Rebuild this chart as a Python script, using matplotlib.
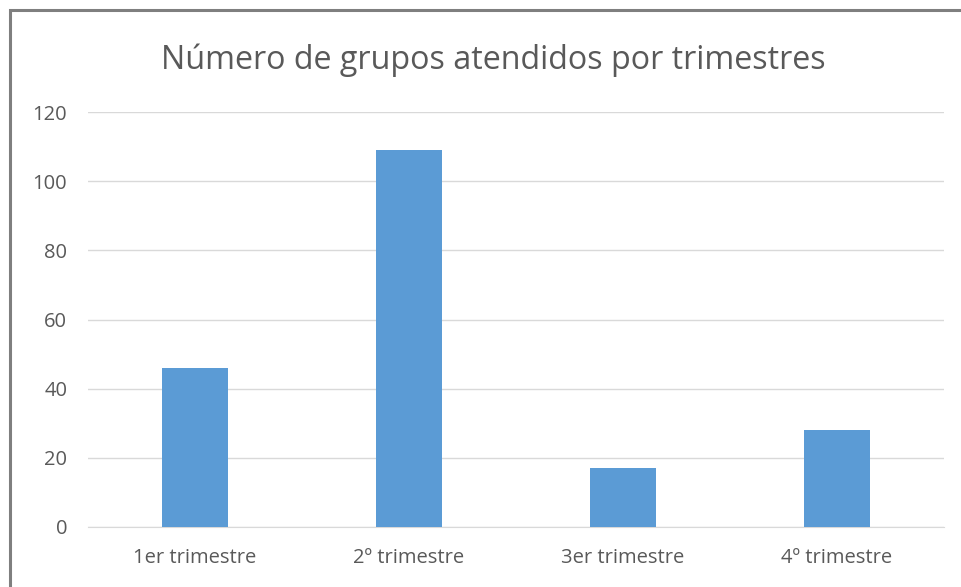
"""Número de grupos atendidos por trimestres - bar chart."""

import matplotlib.pyplot as plt
from matplotlib.patches import Rectangle


CATEGORIES = ["1er trimestre", "2º trimestre", "3er trimestre", "4º trimestre"]
VALUES = [46, 109, 17, 28]
Y_TICKS = [0, 20, 40, 60, 80, 100, 120]

TITLE = "Número de grupos atendidos por trimestres"
BAR_COLOR = "#5b9bd5"
TEXT_COLOR = "#595959"
GRID_COLOR = "#d9d9d9"


def main() -> None:
    plt.rcParams["font.family"] = ["Open Sans", "DejaVu Sans"]

    fig = plt.figure(figsize=(9.61, 5.87), dpi=100)
    ax = fig.add_axes([88 / 961, 1 - 527 / 587, (944 - 88) / 961, (527 - 112) / 587])

    positions = range(len(CATEGORIES))
    ax.bar(positions, VALUES, width=0.31, color=BAR_COLOR, zorder=3)

    ax.set_xlim(-0.5, len(CATEGORIES) - 0.5)
    ax.set_ylim(0, 120)
    ax.set_yticks(Y_TICKS)
    ax.set_xticks(list(positions))
    ax.set_xticklabels(CATEGORIES)

    ax.tick_params(axis="both", length=0, labelsize=14.5, colors=TEXT_COLOR)
    ax.tick_params(axis="y", pad=15)
    ax.tick_params(axis="x", pad=15)
    ax.grid(axis="y", color=GRID_COLOR, linewidth=1, zorder=0)
    for side in ["top", "right", "left"]:
        ax.spines[side].set_visible(False)
    ax.spines["bottom"].set_color(GRID_COLOR)

    fig.text(493 / 961, 1 - 60 / 587, TITLE, ha="center", va="center",
             fontsize=23.2, color=TEXT_COLOR)

    # grey frame on left and top, like the cropped screenshot
    frame = Rectangle((9.5 / 961, -0.1), 1.2, 1 - 9.5 / 587 + 0.1,
                      transform=fig.transFigure, fill=False,
                      edgecolor="#7f7f7f", linewidth=2.2)
    fig.patches.append(frame)

    fig.savefig("out.png", dpi=100)


if __name__ == "__main__":
    main()
